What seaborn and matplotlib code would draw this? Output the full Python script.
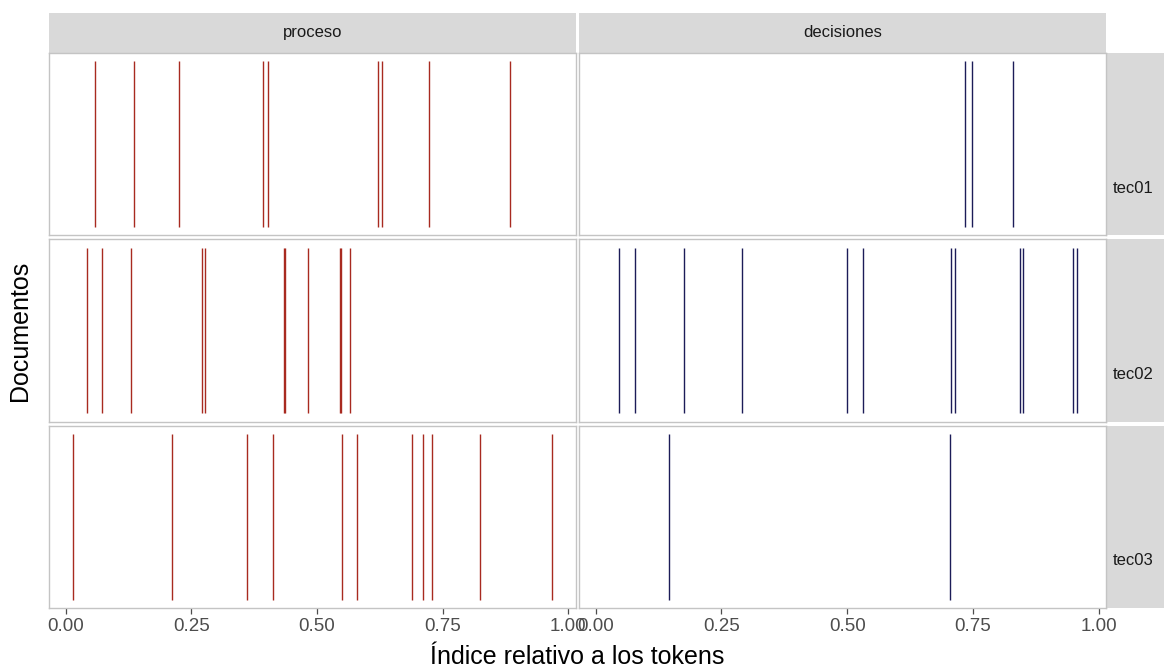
import matplotlib
matplotlib.use("Agg")
import matplotlib.pyplot as plt
from matplotlib.patches import Rectangle
import numpy as np
import pandas as pd
import seaborn as sns

# Relative token positions of each term inside each document
documentos = ["tec01", "tec02", "tec03"]
terminos = ["proceso", "decisiones"]

proceso_tec01 = [0.058, 0.136, 0.226, 0.393, 0.403, 0.622, 0.629, 0.722, 0.883]
proceso_tec02 = [0.042, 0.073, 0.131, 0.271, 0.278, 0.435, 0.437, 0.482,
                 0.546, 0.548, 0.565]
proceso_tec03 = [0.014, 0.212, 0.360, 0.413, 0.549, 0.580, 0.688, 0.710,
                 0.729, 0.824, 0.967]
decisiones_tec01 = [0.735, 0.748, 0.829]
decisiones_tec02 = [0.046, 0.079, 0.176, 0.290, 0.499, 0.532, 0.707, 0.715,
                    0.844, 0.850, 0.949, 0.956]
decisiones_tec03 = [0.146, 0.704]

x_ticks = [0.0, 0.25, 0.5, 0.75, 1.0]
x_tick_labels = ["0.00", "0.25", "0.50", "0.75", "1.00"]

posiciones = {
    ("tec01", "proceso"): proceso_tec01,
    ("tec02", "proceso"): proceso_tec02,
    ("tec03", "proceso"): proceso_tec03,
    ("tec01", "decisiones"): decisiones_tec01,
    ("tec02", "decisiones"): decisiones_tec02,
    ("tec03", "decisiones"): decisiones_tec03,
}
rows = []
for (doc, term), vals in posiciones.items():
    for v in vals:
        rows.append({"documento": doc, "termino": term, "indice": v})
df = pd.DataFrame(rows)

colores = {"proceso": "#A82A20", "decisiones": "#1C1C58"}

sns.set_theme(style="white")
plt.rcParams["font.family"] = ["Liberation Sans", "DejaVu Sans"]

W, H = 1164, 669
g = sns.FacetGrid(df, row="documento", col="termino", hue="termino",
                  row_order=documentos, col_order=terminos,
                  hue_order=terminos, palette=colores,
                  sharex=True, sharey=True, despine=False)
g.figure.set_size_inches(W / 100, H / 100)


def dispersion(data, color=None, **kws):
    ax = plt.gca()
    ax.vlines(data["indice"], 0, 1, color=color, linewidth=1.0)


g.map_dataframe(dispersion)

# ggplot-style 5 % expansion of the data range
lo, hi = df["indice"].min(), df["indice"].max()
pad = 0.05 * (hi - lo)
g.set(xlim=(lo - pad, hi + pad), ylim=(-0.05, 1.05), yticks=[])
g.set_titles("")
g.set_axis_labels("", "")

left, right = 48.6 / W, 1106 / W
top, bottom = 1 - 53 / H, 1 - 608 / H
g.figure.subplots_adjust(left=left, right=right, top=top, bottom=bottom,
                         wspace=0.0057, hspace=0.022)

tick_color = "#4D4D4D"
for ax in g.axes.flat:
    ax.set_facecolor("white")
    for sp in ax.spines.values():
        sp.set_color("#C4C4C4")
        sp.set_linewidth(1.0)
    ax.grid(False)
    ax.tick_params(axis="y", left=False, labelleft=False)
for ax in g.axes[-1, :]:
    ax.set_xticks(x_ticks)
    ax.set_xticklabels(x_tick_labels)
    ax.tick_params(axis="x", bottom=True, length=4, width=0.9,
                   color=tick_color, labelcolor=tick_color,
                   labelsize=13.5, pad=3)
for ax in g.axes[:-1, :].flat:
    ax.tick_params(axis="x", bottom=False, labelbottom=False)

fig = g.figure
strip_fill = "#D9D9D9"
strip_text = "#1A1A1A"

# Column strips
strip_top = 1 - 12.7 / H
for j, term in enumerate(terminos):
    pos = g.axes[0, j].get_position()
    fig.add_artist(Rectangle((pos.x0, pos.y1), pos.width, strip_top - pos.y1,
                             transform=fig.transFigure, facecolor=strip_fill,
                             edgecolor="none", zorder=0))
    fig.text((pos.x0 + pos.x1) / 2, (pos.y1 + strip_top) / 2, term,
             ha="center", va="center", fontsize=12, color=strip_text)

# Row strips (labels sit in the lower half of each strip)
strip_left = 1107 / W
for i, doc in enumerate(documentos):
    pos = g.axes[i, -1].get_position()
    fig.add_artist(Rectangle((strip_left, pos.y0), 1.2 - strip_left,
                             pos.height, transform=fig.transFigure,
                             facecolor=strip_fill, edgecolor="none", zorder=0))
    fig.text(1113 / W, (pos.y0 + pos.y1) / 2 - 44 / H, doc, ha="left",
             va="center", fontsize=12, color=strip_text)

fig.text((left + right) / 2, 1 - 657 / H, "Índice relativo a los tokens",
         ha="center", va="center", fontsize=18, color="black")
fig.text(20 / W, (top + bottom) / 2, "Documentos", ha="center", va="center",
         rotation=90, fontsize=18, color="black")

fig.savefig("out.png", dpi=100, facecolor="white")
